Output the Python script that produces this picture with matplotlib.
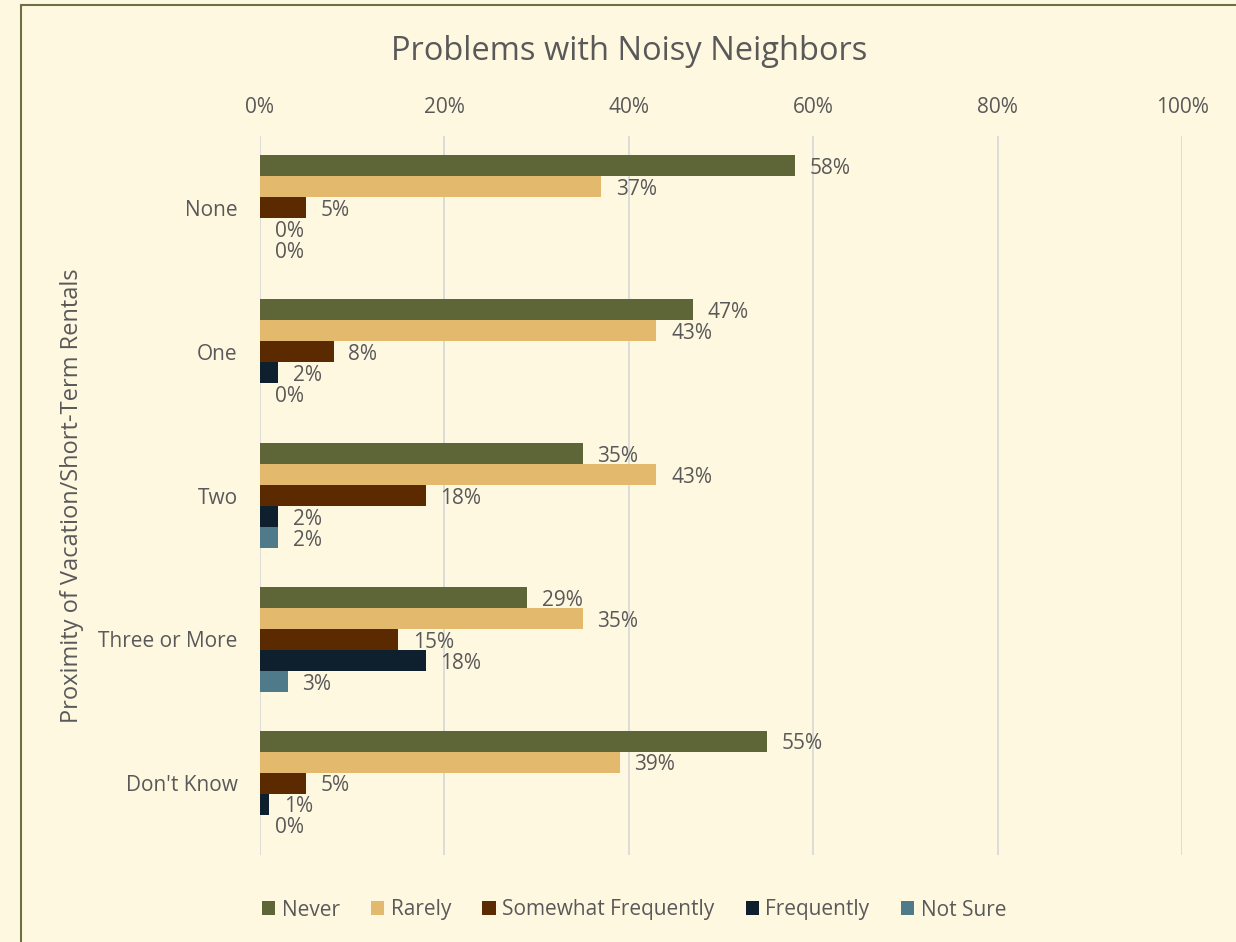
import numpy as np
import matplotlib
matplotlib.use("Agg")
import matplotlib.pyplot as plt
from matplotlib.patches import Rectangle

# ------------------------------------------------------------------
# Data
# ------------------------------------------------------------------
categories = ["None", "One", "Two", "Three or More", "Don't Know"]
series_names = ["Never", "Rarely", "Somewhat Frequently", "Frequently", "Not Sure"]
never = [58, 47, 35, 29, 55]
rarely = [37, 43, 43, 35, 39]
somewhat = [5, 8, 18, 15, 5]
frequently = [0, 2, 2, 18, 1]
not_sure = [0, 0, 2, 3, 0]
xticks = [0, 20, 40, 60, 80, 100]

colors = ["#5E6638", "#E2B96D", "#5C2A00", "#0E1F2E", "#4E7A8A"]
bg = "#FFF8E1"
text_col = "#595959"
fs = 15

plt.rcParams["font.family"] = ["Open Sans", "DejaVu Sans"]

fig = plt.figure(figsize=(12.36, 9.42), dpi=100, facecolor=bg)
ax = fig.add_axes([260 / 1236, 1 - 855 / 942, 922 / 1236, 719 / 942])
ax.set_facecolor(bg)

y = np.arange(len(categories))
h = 0.146
all_series = [never, rarely, somewhat, frequently, not_sure]
for i, (name, vals) in enumerate(zip(series_names, all_series)):
    pos = y + (i - 2) * h
    ax.barh(pos, vals, height=h, color=colors[i], label=name, zorder=3)
    for p, v in zip(pos, vals):
        ax.annotate(f"{v}%", (v, p), xytext=(10.5, -2), textcoords="offset points",
                    ha="left", va="center", fontsize=fs, color=text_col)

ax.set_xlim(0, 100)
ax.set_ylim(len(categories) - 0.5, -0.5)
ax.set_yticks(y)
ax.set_yticklabels(categories, fontsize=fs, color=text_col)
ax.set_xticks(xticks)
ax.set_xticklabels([f"{t}%" for t in xticks], fontsize=fs, color=text_col)
ax.xaxis.tick_top()
ax.tick_params(axis="both", length=0)
ax.tick_params(axis="x", pad=13)
ax.tick_params(axis="y", pad=16)
ax.grid(axis="x", color="#D9D9D9", linewidth=1.3, zorder=0)
for s in ax.spines.values():
    s.set_visible(False)

ax.set_ylabel("Proximity of Vacation/Short-Term Rentals", fontsize=17,
              color=text_col)
ax.yaxis.set_label_coords(-(260 - 84) / 922, 0.5)

fig.text(629 / 1236, 1 - 51 / 942, "Problems with Noisy Neighbors",
         ha="center", va="center", fontsize=23.5, color=text_col)

leg = fig.legend(loc="center", bbox_to_anchor=(634 / 1236, 1 - 910 / 942),
                 ncol=5, frameon=False, fontsize=fs, handlelength=0.65,
                 handleheight=0.65, handletextpad=0.3, columnspacing=1.5)
for t in leg.get_texts():
    t.set_color(text_col)

# chart border (partly cropped in the original)
fig.patches.append(Rectangle((21 / 1236, -0.1), 1.2, 1 - 5 / 942 + 0.1,
                             transform=fig.transFigure, fill=False,
                             edgecolor="#6B7045", linewidth=1.5))

fig.savefig("out.png", dpi=100, facecolor=bg)
